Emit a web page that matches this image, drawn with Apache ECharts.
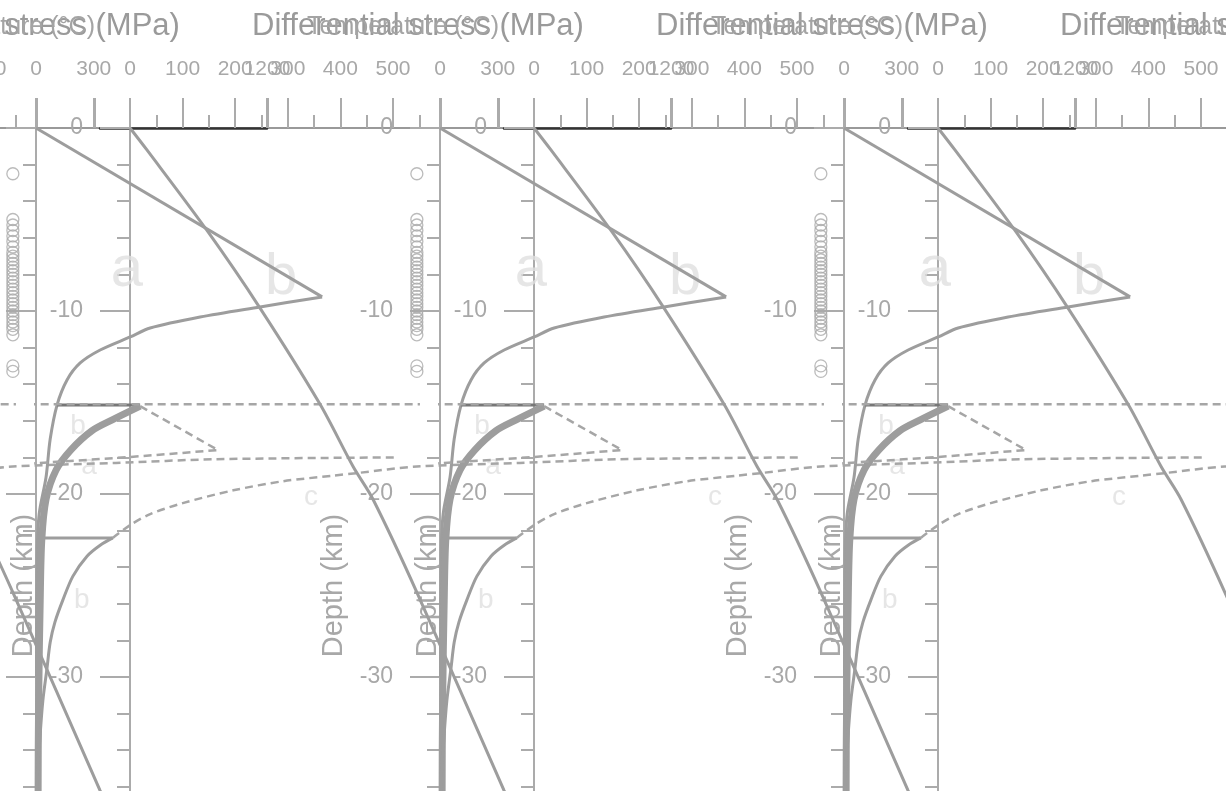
<!DOCTYPE html>
<html>
<head>
<meta charset="utf-8">
<script src="https://cdn.jsdelivr.net/npm/echarts@6/dist/echarts.min.js"></script>
<style>
html,body{margin:0;padding:0;background:#fff;}
#chart{width:1226px;height:791px;}
</style>
</head>
<body>
<div id="chart"></div>
<script>
// ---- data ----
const tileOffsets = [-404, 0, 404, 808];
const tempLabels = [0, 300, 1200];
const stressLabels = [0, 100, 200, 300, 400, 500];
const stressMinorTicks = [50, 150, 250, 350, 450, 550];
const titleStress = 'Differential stress (MPa)';
const titleTemp = 'Temperature (°C)';
const depthName = 'Depth (km)';

// [differential stress (MPa), depth (km)]
const brittleLine = [[0, 0], [544, -9.23]];
const upperDuctile = [[544, -9.23], [426, -9.78], [312, -10.33], [217, -10.93], [179, -11.42], [122, -12.13], [84, -12.84], [59, -13.77], [40, -15.14], [27, -17.0], [19, -19.1], [6, -21.1], [2, -23.6], [1, -30]];
const step15 = [[40, -15.14], [198, -15.14]];
const thickLower = [[198, -15.2], [145, -15.95], [106, -16.55], [66, -17.6], [38, -18.7], [19, -20.3], [11, -22.5], [8, -25.8], [5, -31.3], [4, -36.7], [4, -45]];
const dashedA = [[198, -15.2], [346, -17.6], [179, -17.98], [-44, -18.4], [-90, -18.5]];
const step22 = [[8, -22.4], [146, -22.4]];
const lowerB = [[146, -22.4], [122, -22.8], [97, -23.4], [70, -24.5], [51, -25.8], [36, -27.0], [27, -28.1], [21, -29.5], [13, -31.3], [8, -33.1], [2, -35.8], [1, -45]];
const dashedC = [[146, -22.4], [179, -21.7], [217, -21.1], [279, -20.5], [375, -19.8], [470, -19.3], [565, -19.0], [612, -18.85], [724, -18.5], [920, -18.3], [1110, -18.1], [1450, -18.0]];
const dashed15 = [[-90, -15.1], [730, -15.1]];
// [temperature (°C), depth (km)]
const geotherm = [[0, 0], [77, -1.2], [350, -5.6], [591, -9.84], [864, -15.1], [1014, -18.5], [1105, -20.3], [1305, -25.4], [1700, -36.2], [1845, -40]];
// earthquake markers
const quakeStress = -44;
const quakeDepths = [-2.5, -5.0, -5.3, -5.6, -5.9, -6.2, -6.5, -6.8, -7.0, -7.2, -7.4, -7.6, -7.8, -8.0, -8.2, -8.4, -8.6, -8.8, -9.0, -9.2, -9.4, -9.6, -9.8, -10.0, -10.2, -10.4, -10.6, -10.8, -11.0, -11.3, -13.0, -13.3];
// panel annotations: [text, stress, depth]
const bigLetters = [['a', 173, -7.76], ['b', 466, -8.2]];
const smallLetters = [['b', 80, -16.3], ['a', 101, -18.5], ['c', 523, -20.2], ['b', 87, -25.8]];

// ---- layout / style ----
const FONT = 'Liberation Sans, Arial, sans-serif';
const TOP = 128, W = 770, H = 915;
const AX = '#ababab', LINE = '#9d9d9d', DASH = '#a6a6a6', TXT = '#a8a8a8', LIGHT = '#e0e0e0';
const plain = v => String(v);

const grids = [], xAxes = [], yAxes = [], series = [], titles = [];

function gridDef(left, width) {
  return { left: left, top: TOP, width: width, height: H, outerBoundsMode: 'none', containLabel: false };
}

function yAxisDef(gi) {
  return {
    gridIndex: gi, type: 'value', min: -50, max: 0, interval: 10, position: 'left',
    axisLine: { show: true, lineStyle: { color: AX, width: 2 } },
    axisTick: { show: true, length: 30, lineStyle: { color: AX, width: 2 } },
    minorTick: { show: true, splitNumber: 5, length: 13, lineStyle: { color: AX, width: 2 } },
    axisLabel: { margin: 47, fontSize: 23, color: TXT, fontFamily: FONT, formatter: plain },
    splitLine: { show: false }, minorSplitLine: { show: false },
    name: depthName, nameLocation: 'middle', nameGap: 92,
    nameTextStyle: { fontSize: 29, color: TXT, fontFamily: FONT }
  };
}

tileOffsets.forEach(off => {
  const gA = grids.length; grids.push(gridDef(off + 36, W));
  const gB = grids.length; grids.push(gridDef(off + 130, W));
  const gD = grids.length; grids.push(gridDef(off + 100, 167));

  xAxes.push({ gridIndex: gA, type: 'value', position: 'top', min: 0, max: 4000,
    axisLine: { lineStyle: { color: '#999', width: 2 } },
    axisTick: { customValues: tempLabels, length: 30, lineStyle: { color: AX, width: 3 } },
    axisLabel: { customValues: tempLabels, margin: 48, fontSize: 21, color: TXT, fontFamily: FONT, formatter: plain },
    splitLine: { show: false } });
  const xSA = xAxes.length;
  xAxes.push({ gridIndex: gA, type: 'value', min: 0, max: 1464, show: false });
  xAxes.push({ gridIndex: gB, type: 'value', position: 'top', min: 0, max: 1464,
    axisLine: { lineStyle: { color: '#999', width: 2 } },
    axisTick: { customValues: stressLabels, length: 30, lineStyle: { color: AX, width: 2 } },
    axisLabel: { customValues: stressLabels, margin: 48, fontSize: 21, color: TXT, fontFamily: FONT, formatter: plain },
    splitLine: { show: false } });
  xAxes.push({ gridIndex: gB, type: 'value', position: 'top', min: 0, max: 1464,
    axisLine: { show: false },
    axisTick: { customValues: stressMinorTicks, length: 13, lineStyle: { color: AX, width: 2 } },
    axisLabel: { show: false }, splitLine: { show: false } });
  const xTB = xAxes.length;
  xAxes.push({ gridIndex: gB, type: 'value', min: 0, max: 3500, show: false });
  xAxes.push({ gridIndex: gD, type: 'value', position: 'top', min: 0, max: 1,
    axisLine: { lineStyle: { color: '#333', width: 2.5 } },
    axisTick: { show: false }, axisLabel: { show: false }, splitLine: { show: false } });

  const yA = yAxes.length; yAxes.push(yAxisDef(gA));
  const yB = yAxes.length; yAxes.push(yAxisDef(gB));
  yAxes.push({ gridIndex: gD, type: 'value', min: -50, max: 0, show: false });

  const lineA = (data, opts) => Object.assign({
    type: 'line', xAxisIndex: xSA, yAxisIndex: yA, data: data, symbol: 'none', clip: false,
    silent: true, lineStyle: { color: LINE, width: 3 }
  }, opts || {});

  series.push(lineA(brittleLine));
  series.push(lineA(upperDuctile, { smooth: 0.3 }));
  series.push(lineA(step15, { lineStyle: { color: '#777', width: 3 } }));
  series.push(lineA(thickLower, { smooth: 0.3, lineStyle: { color: LINE, width: 7 } }));
  series.push(lineA(dashedA, { lineStyle: { color: DASH, width: 2.5, type: [8, 5] } }));
  series.push(lineA(step22));
  series.push(lineA(lowerB, { smooth: 0.3 }));
  series.push(lineA(dashedC, { smooth: 0.3, lineStyle: { color: DASH, width: 2.5, type: [8, 5] } }));
  series.push(lineA(dashed15, { lineStyle: { color: DASH, width: 2.5, type: [8, 5] } }));
  series.push({ type: 'line', xAxisIndex: xTB, yAxisIndex: yB, data: geotherm, smooth: 0.3,
    symbol: 'none', clip: false, silent: true, lineStyle: { color: LINE, width: 3 } });
  series.push({ type: 'scatter', xAxisIndex: xSA, yAxisIndex: yA, clip: false, silent: true,
    data: quakeDepths.map(d => [quakeStress, d]), symbol: 'circle', symbolSize: 12,
    itemStyle: { color: 'rgba(255,255,255,0)', borderColor: '#aaa', borderWidth: 1.3 } });
  series.push({ type: 'scatter', xAxisIndex: xSA, yAxisIndex: yA, clip: false, silent: true,
    data: bigLetters.map(l => ({ name: l[0], value: [l[1], l[2]] })), symbolSize: 1,
    itemStyle: { color: 'rgba(0,0,0,0)' },
    label: { show: true, position: 'inside', formatter: '{b}', fontSize: 58, color: LIGHT, fontFamily: FONT } });
  series.push({ type: 'scatter', xAxisIndex: xSA, yAxisIndex: yA, clip: false, silent: true,
    data: smallLetters.map(l => ({ name: l[0], value: [l[1], l[2]] })), symbolSize: 1,
    itemStyle: { color: 'rgba(0,0,0,0)' },
    label: { show: true, position: 'inside', formatter: '{b}', fontSize: 28, color: LIGHT, fontFamily: FONT } });

  titles.push({ text: titleStress, left: off + 247, top: 6,
    textStyle: { fontSize: 31, color: '#9a9a9a', fontWeight: 'normal', fontFamily: FONT } });
  titles.push({ text: titleTemp, left: off + 302, top: 10,
    textStyle: { fontSize: 25, color: '#a4a4a4', fontWeight: 'normal', fontFamily: FONT } });
});

const chart = echarts.init(document.getElementById('chart'), null, { renderer: 'canvas' });
chart.setOption({
  backgroundColor: '#fff',
  animation: false,
  title: titles,
  grid: grids,
  xAxis: xAxes,
  yAxis: yAxes,
  series: series
});
</script>
</body>
</html>
